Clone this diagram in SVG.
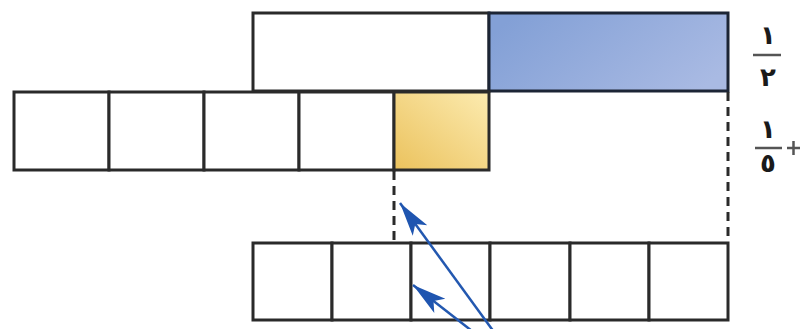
<svg xmlns="http://www.w3.org/2000/svg" width="802" height="329" viewBox="0 0 802 329">
<style>
.cell{fill:#ffffff;stroke:#2a2a2a;stroke-width:3}
.dash{fill:none;stroke:#2a2a2a;stroke-width:3;stroke-dasharray:9 6}
.arrow{fill:none;stroke:#2358b0;stroke-width:2.5;marker-end:url(#ah)}
.num{font-family:"DejaVu Sans",sans-serif;font-size:26px;font-weight:bold;fill:#1a1a1a;text-anchor:middle}
.bar{stroke:#555;stroke-width:2.5}
</style>
<defs>
<linearGradient id="blue" x1="0" y1="0.3" x2="1" y2="0.7">
<stop offset="0" stop-color="#83a0d6"/>
<stop offset="1" stop-color="#a9bae3"/>
</linearGradient>
<linearGradient id="yellow" x1="0" y1="1" x2="1" y2="0">
<stop offset="0" stop-color="#ebc25d"/>
<stop offset="1" stop-color="#fcebb0"/>
</linearGradient>
<marker id="ah" markerUnits="userSpaceOnUse" markerWidth="34" markerHeight="20" viewBox="0 0 34 20" refX="34" refY="10" orient="auto">
<path d="M0,1 L34,10 L0,19 L8,10 Z" fill="#1f55b0"/>
</marker>
</defs>
<rect width="802" height="329" fill="#ffffff"/>
<g id="top-bar">
<rect class="cell" x="253" y="13" width="236" height="78"/>
<rect class="cell" x="489" y="13" width="239" height="78" style="fill:url(#blue);stroke:#1c2535"/>
</g>
<g id="fifths-row">
<rect class="cell" x="14" y="92" width="95" height="78"/>
<rect class="cell" x="109" y="92" width="95" height="78"/>
<rect class="cell" x="204" y="92" width="95" height="78"/>
<rect class="cell" x="299" y="92" width="95" height="78"/>
<rect class="cell" x="394" y="92" width="95" height="78" style="fill:url(#yellow)"/>
</g>
<g id="sixths-row">
<rect class="cell" x="253" y="243" width="79" height="77"/>
<rect class="cell" x="332" y="243" width="79" height="77"/>
<rect class="cell" x="411" y="243" width="79" height="77"/>
<rect class="cell" x="490" y="243" width="80" height="77"/>
<rect class="cell" x="570" y="243" width="79" height="77"/>
<rect class="cell" x="649" y="243" width="79" height="77"/>
</g>
<g id="labels">
<text class="num" x="768" y="44">١</text>
<line class="bar" x1="753" y1="55" x2="781" y2="55"/>
<text class="num" x="768" y="86">٢</text>
<text class="num" x="768" y="138">١</text>
<line class="bar" x1="755" y1="148" x2="782" y2="148"/>
<text class="num" x="768" y="172">٥</text>
<line class="bar" x1="787" y1="148" x2="800" y2="148"/>
<line class="bar" x1="793.5" y1="141" x2="793.5" y2="155"/>
</g>
<g id="connectors">
<line class="dash" x1="394" y1="171" x2="394" y2="242"/>
<line class="dash" x1="728" y1="92" x2="728" y2="242"/>
<line class="arrow" x1="494" y1="332" x2="400" y2="203"/>
<line class="arrow" x1="472" y1="331" x2="413" y2="285"/>
</g>
</svg>
